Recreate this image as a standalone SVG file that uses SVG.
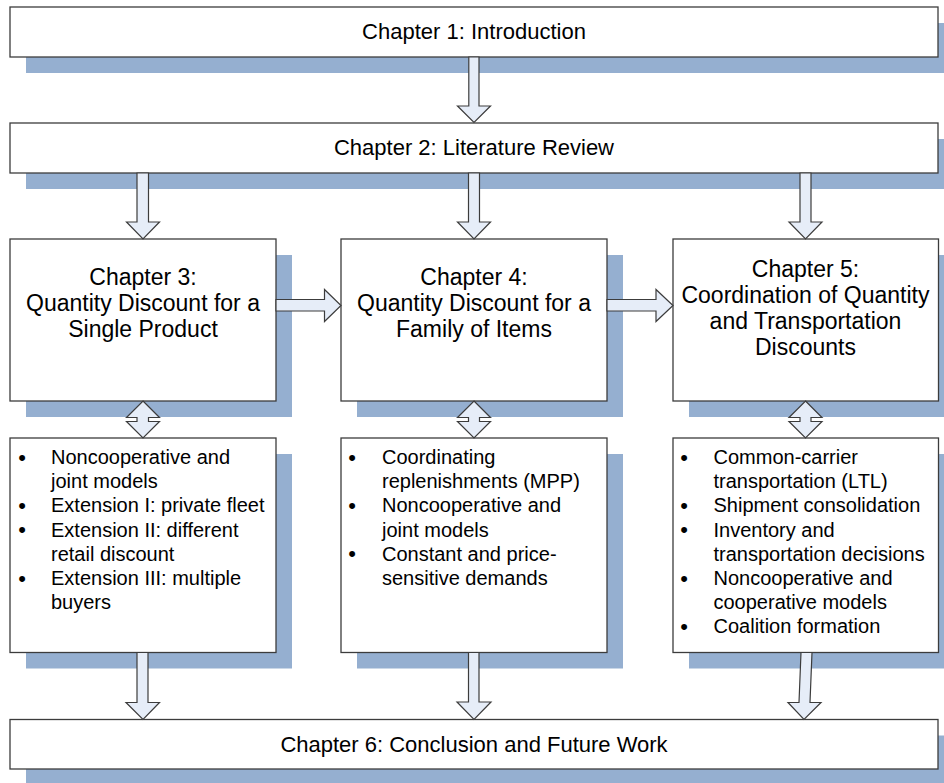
<svg xmlns="http://www.w3.org/2000/svg" width="944" height="783" viewBox="0 0 944 783">
<style>
.sh{fill:#95AFD0;stroke:none}
.bx{fill:#FFFFFF;stroke:#3C3C3C;stroke-width:1.3}
.ar{fill:#E6EDF8;stroke:#3C3C3C;stroke-width:1.2;stroke-linejoin:miter}
.t{font-family:"Liberation Sans",Arial,sans-serif;fill:#000}
.h{font-size:22px;text-anchor:middle}
.m{font-size:23px;text-anchor:middle}
.b{font-size:20px}
.d{font-size:22px;text-anchor:middle}
</style>
<rect width="944" height="783" fill="#FFFFFF"/>
<g id="ch1">
<rect class="sh" x="26" y="23" width="928" height="50"/>
<rect class="bx" x="10" y="7" width="928" height="50"/>
<text class="t h" x="474" y="38.7">Chapter 1: Introduction</text>
</g>
<g id="ch2">
<rect class="sh" x="26" y="139" width="928" height="50"/>
<rect class="bx" x="10" y="123" width="928" height="50"/>
<text class="t h" x="474" y="155">Chapter 2: Literature Review</text>
</g>
<g id="ch3">
<rect class="sh" x="26" y="255" width="266" height="162"/>
<rect class="bx" x="10" y="239" width="266" height="162"/>
<text class="t m" x="143" y="285">Chapter 3:</text>
<text class="t m" x="143" y="311">Quantity Discount for a</text>
<text class="t m" x="143" y="337">Single Product</text>
</g>
<g id="ch4">
<rect class="sh" x="357" y="255" width="266" height="162"/>
<rect class="bx" x="341" y="239" width="266" height="162"/>
<text class="t m" x="474" y="285">Chapter 4:</text>
<text class="t m" x="474" y="311">Quantity Discount for a</text>
<text class="t m" x="474" y="337">Family of Items</text>
</g>
<g id="ch5">
<rect class="sh" x="689" y="255" width="266" height="162"/>
<rect class="bx" x="673" y="239" width="265.5" height="162"/>
<text class="t m" x="805.5" y="277">Chapter 5:</text>
<text class="t m" x="805.5" y="303">Coordination of Quantity</text>
<text class="t m" x="805.5" y="329">and Transportation</text>
<text class="t m" x="805.5" y="355">Discounts</text>
</g>
<g id="list3">
<rect class="sh" x="26" y="454" width="266" height="214.5"/>
<rect class="bx" x="10" y="438" width="266" height="214.5"/>
<g class="t b">
<text class="d" x="22" y="464.5">•</text>
<text x="51" y="464">Noncooperative and</text>
<text x="51" y="488.2">joint models</text>
<text class="d" x="22" y="512.9">•</text>
<text x="51" y="512.4">Extension I: private fleet</text>
<text class="d" x="22" y="537.1">•</text>
<text x="51" y="536.6">Extension II: different</text>
<text x="51" y="560.8">retail discount</text>
<text class="d" x="22" y="585.5">•</text>
<text x="51" y="585">Extension III: multiple</text>
<text x="51" y="609.2">buyers</text>
</g>
</g>
<g id="list4">
<rect class="sh" x="357" y="454" width="266" height="214.5"/>
<rect class="bx" x="341" y="438" width="266" height="214.5"/>
<g class="t b">
<text class="d" x="352" y="464.5">•</text>
<text x="382" y="464">Coordinating</text>
<text x="382" y="488.2">replenishments (MPP)</text>
<text class="d" x="352" y="512.9">•</text>
<text x="382" y="512.4">Noncooperative and</text>
<text x="382" y="536.6">joint models</text>
<text class="d" x="352" y="561.3">•</text>
<text x="382" y="560.8">Constant and price-</text>
<text x="382" y="585">sensitive demands</text>
</g>
</g>
<g id="list5">
<rect class="sh" x="689" y="454" width="266" height="214.5"/>
<rect class="bx" x="673" y="438" width="265.5" height="214.5"/>
<g class="t b">
<text class="d" x="684" y="464.5">•</text>
<text x="713.5" y="464">Common-carrier</text>
<text x="713.5" y="488.2">transportation (LTL)</text>
<text class="d" x="684" y="512.9">•</text>
<text x="713.5" y="512.4">Shipment consolidation</text>
<text class="d" x="684" y="537.1">•</text>
<text x="713.5" y="536.6">Inventory and</text>
<text x="713.5" y="560.8">transportation decisions</text>
<text class="d" x="684" y="585.5">•</text>
<text x="713.5" y="585">Noncooperative and</text>
<text x="713.5" y="609.2">cooperative models</text>
<text class="d" x="684" y="633.9">•</text>
<text x="713.5" y="633.4">Coalition formation</text>
</g>
</g>
<g id="ch6">
<rect class="sh" x="26" y="735.5" width="928" height="50"/>
<rect class="bx" x="10" y="719.5" width="928" height="49.5"/>
<text class="t h" x="474" y="751.5">Chapter 6: Conclusion and Future Work</text>
</g>
<g id="connectors">
<polygon class="ar" points="468.8,57 479,57 479,106 490.5,106 474,122.5 457.5,106 468.8,106"/>
<polygon class="ar" points="137,173 148.5,173 148.5,222 159.5,222 143,239 126.5,222 137,222"/>
<polygon class="ar" points="468.5,173 479.5,173 479.5,222 490.5,222 474,239 457.5,222 468.5,222"/>
<polygon class="ar" points="800,173 811,173 811,222 822,222 805.5,239 789,222 800,222"/>
<polygon class="ar" points="276,299.5 324.5,299.5 324.5,289.5 341,305.5 324.5,321.5 324.5,311 276,311"/>
<polygon class="ar" points="607,299.5 656,299.5 656,289.5 673,305.5 656,321.5 656,311 607,311"/>
<polygon class="ar" points="143,401 159.5,417.5 148.5,417.5 148.5,421.5 159.5,421.5 143,438 126.5,421.5 137,421.5 137,417.5 126.5,417.5"/>
<polygon class="ar" points="474,401 490.5,417.5 479.5,417.5 479.5,421.5 490.5,421.5 474,438 457.5,421.5 468.5,421.5 468.5,417.5 457.5,417.5"/>
<polygon class="ar" points="805.5,401 822,417.5 811,417.5 811,421.5 822,421.5 805.5,438 789,421.5 800,421.5 800,417.5 789,417.5"/>
<polygon class="ar" points="137,652.5 148,652.5 148,702.5 159.5,702.5 143,719.5 126,702.5 137,702.5"/>
<polygon class="ar" points="468.5,652.5 479,652.5 479,702 491,702 474,719.5 457,702 468.5,702"/>
<polygon class="ar" points="801,652.5 812,652.5 810,702.5 821,702.5 804,719.5 788,702.5 799,702.5"/>
</g>
</svg>
